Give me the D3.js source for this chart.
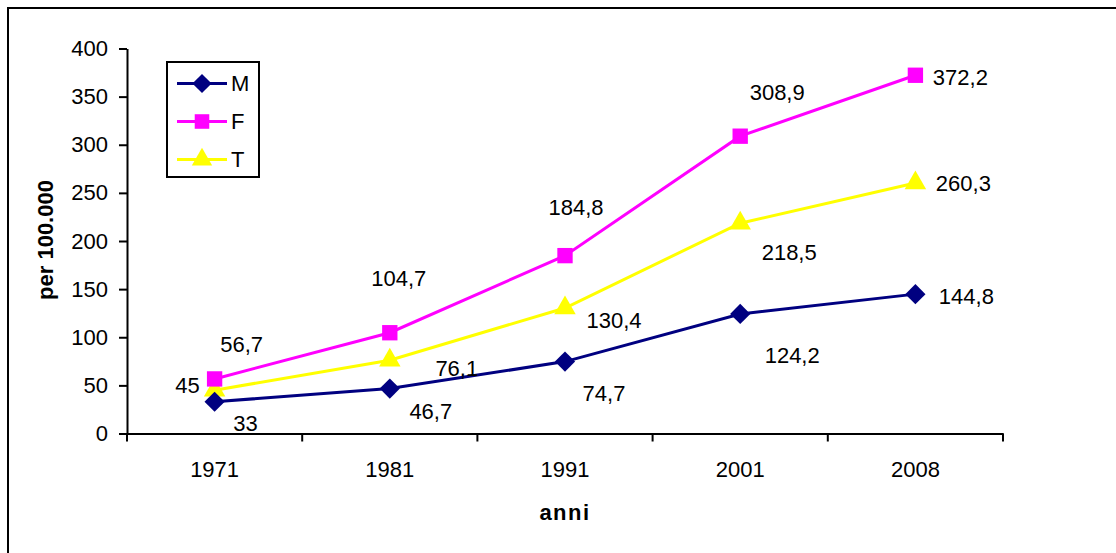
<!DOCTYPE html>
<html>
<head>
<meta charset="utf-8">
<script src="https://cdn.jsdelivr.net/npm/d3@7"></script>
<style>
  body { margin: 0; background: #fff; }
  svg { display: block; font-family: "Liberation Sans", Arial, sans-serif; }
</style>
</head>
<body>
<div id="chart"></div>
<script>
const years = ["1971", "1981", "1991", "2001", "2008"];
const seriesNames = ["M", "F", "T"];
const valuesM = [33, 46.7, 74.7, 124.2, 144.8];
const valuesF = [56.7, 104.7, 184.8, 308.9, 372.2];
const valuesT = [45, 76.1, 130.4, 218.5, 260.3];
const yTicks = [0, 50, 100, 150, 200, 250, 300, 350, 400];

// look of each series
const colors = {M: "#000080", F: "#FF00FF", T: "#FFFF00"};
const symbols = {M: d3.symbolDiamond2, F: d3.symbolSquare2, T: d3.symbolTriangle2};
const symSize = {M: 260, F: 300, T: 330};
// where each data label sits, relative to its point (manual, like the original)
const labelShift = {
  M: [[31, 21], [41, 23], [39, 31], [52, 41], [51, 2]],
  F: [[27, -35], [9, -55], [11, -49], [37, -44], [45, 2]],
  T: [[-27, -5], [67, 8], [49, 12], [49, 29], [48, 0]]
};

const W = 1116, H = 553;
const plot = {left: 127, right: 1003, top: 48.5, bottom: 433.5};

const svg = d3.select("#chart").append("svg")
  .attr("width", W)
  .attr("height", H);

// outer frame (runs off the right and bottom of the picture)
svg.append("rect")
  .attr("x", 8).attr("y", 8)
  .attr("width", 1300).attr("height", 700)
  .attr("fill", "none")
  .attr("stroke", "#000")
  .attr("stroke-width", 2);

const x = d3.scaleBand()
  .domain(years)
  .range([plot.left, plot.right]);

const y = d3.scaleLinear()
  .domain([0, 400])
  .range([plot.bottom, plot.top]);

// y axis
const yAxis = svg.append("g")
  .attr("transform", "translate(" + plot.left + ",0)")
  .call(d3.axisLeft(y).tickValues(yTicks).tickSize(8).tickPadding(11).tickSizeOuter(0));
yAxis.select(".domain").attr("stroke-width", 2);
yAxis.selectAll(".tick line").attr("stroke-width", 2);
yAxis.selectAll("text")
  .style("font-size", "22px")
  .attr("fill", "#000");

// x axis: labels in the middle of each band, ticks on the band edges
const xAxis = svg.append("g")
  .attr("transform", "translate(0," + plot.bottom + ")")
  .call(d3.axisBottom(x).tickSize(0).tickPadding(28).tickSizeOuter(0));
xAxis.select(".domain").attr("stroke-width", 2);
xAxis.selectAll("text")
  .style("font-size", "22px")
  .attr("fill", "#000");

const edges = years.map(d => x(d)).concat([x(years[years.length - 1]) + x.bandwidth()]);
xAxis.selectAll("line.edge")
  .data(edges)
  .enter().append("line")
  .attr("class", "edge")
  .attr("x1", d => d).attr("x2", d => d)
  .attr("y1", 0).attr("y2", 8)
  .attr("stroke", "#000")
  .attr("stroke-width", 2);

// axis titles
svg.append("text")
  .attr("transform", "translate(53,240) rotate(-90)")
  .attr("text-anchor", "middle")
  .style("font-size", "22px")
  .style("font-weight", "bold")
  .text("per 100.000");

svg.append("text")
  .attr("x", (plot.left + plot.right) / 2)
  .attr("y", 520)
  .attr("text-anchor", "middle")
  .style("font-size", "22px")
  .style("font-weight", "bold")
  .style("letter-spacing", "1.5px")
  .text("anni");

const data = {M: valuesM, F: valuesF, T: valuesT};
const cx = d => x(d) + x.bandwidth() / 2;

const line = d3.line()
  .x((d, i) => cx(years[i]))
  .y(d => y(d));

// draw T first so M and F sit above it, like the original
["T", "M", "F"].forEach(function(k) {
  const g = svg.append("g");
  g.append("path")
    .datum(data[k])
    .attr("d", line)
    .attr("fill", "none")
    .attr("stroke", colors[k])
    .attr("stroke-width", 3);
  g.selectAll("path.pt")
    .data(data[k])
    .enter().append("path")
    .attr("class", "pt")
    .attr("d", d3.symbol().type(symbols[k]).size(symSize[k]))
    .attr("transform", (d, i) => "translate(" + cx(years[i]) + "," + y(d) + ")")
    .attr("fill", colors[k]);
});

// data labels
seriesNames.forEach(function(k) {
  svg.append("g").selectAll("text")
    .data(data[k])
    .enter().append("text")
    .attr("x", (d, i) => cx(years[i]) + labelShift[k][i][0])
    .attr("y", (d, i) => y(d) + labelShift[k][i][1])
    .attr("text-anchor", "middle")
    .attr("dy", "0.36em")
    .style("font-size", "22px")
    .text(d => String(d).replace(".", ","));
});

// legend
const legend = svg.append("g");
legend.append("rect")
  .attr("x", 167).attr("y", 62)
  .attr("width", 92).attr("height", 115)
  .attr("fill", "#fff")
  .attr("stroke", "#000")
  .attr("stroke-width", 2);

seriesNames.forEach(function(k, i) {
  const ly = 83.5 + i * 38;
  legend.append("line")
    .attr("x1", 177).attr("x2", 227)
    .attr("y1", ly).attr("y2", ly)
    .attr("stroke", colors[k])
    .attr("stroke-width", 3);
  legend.append("path")
    .attr("d", d3.symbol().type(symbols[k]).size(symSize[k] * 0.9))
    .attr("transform", "translate(202," + ly + ")")
    .attr("fill", colors[k]);
  legend.append("text")
    .attr("x", 231)
    .attr("y", ly)
    .attr("dy", "0.36em")
    .style("font-size", "22px")
    .text(k);
});
</script>
</body>
</html>
